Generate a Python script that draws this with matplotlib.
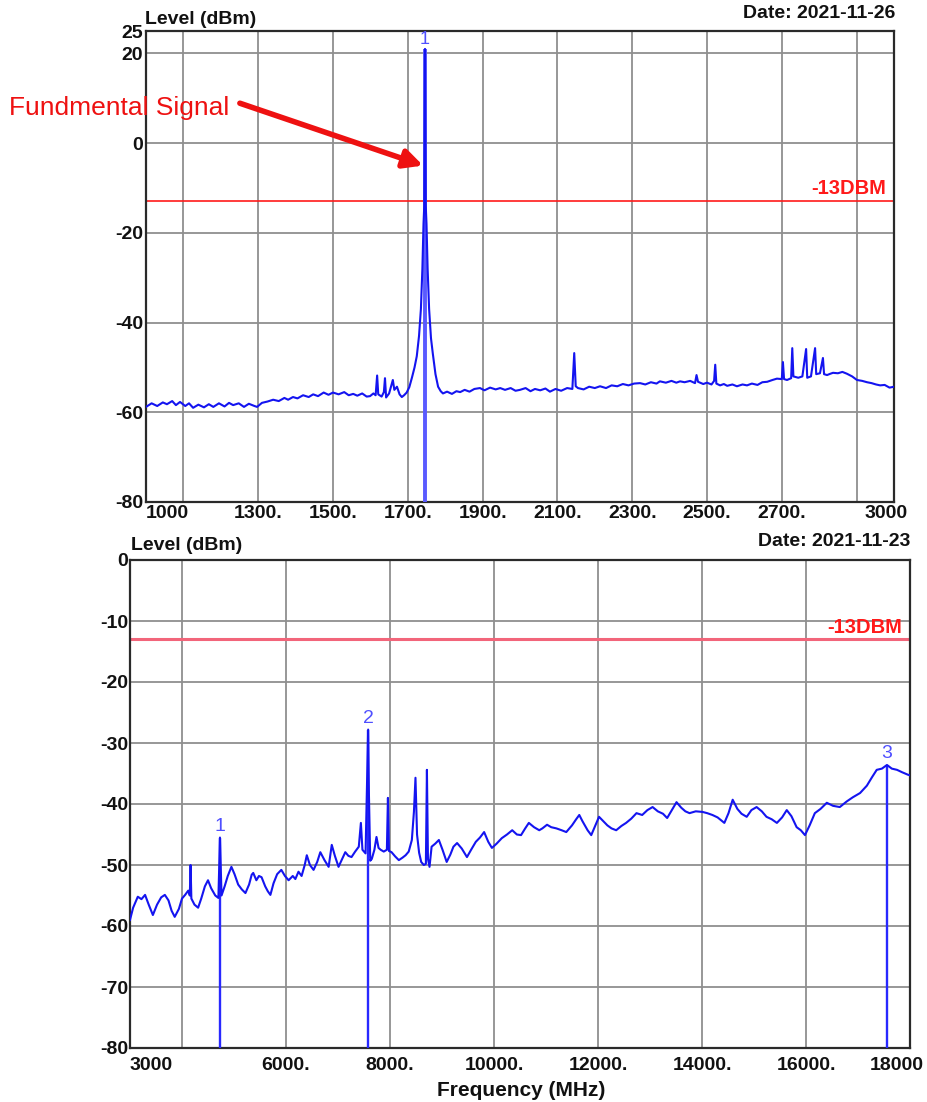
import matplotlib
matplotlib.use("Agg")
import matplotlib.pyplot as plt
from matplotlib.transforms import ScaledTranslation, blended_transform_factory

plt.rcParams['font.family'] = ['Liberation Sans', 'DejaVu Sans']
plt.rcParams['axes.unicode_minus'] = False

# ---------------- data: fundamental sweep 1000-3000 MHz ----------------
top_freq = [1000, 1015, 1030, 1045, 1056, 1070, 1080, 1091, 1105, 1115, 1126, 1140, 1155, 1168,
            1180, 1195, 1210, 1222, 1233, 1248, 1262, 1275, 1290, 1297, 1310, 1325, 1340, 1355,
            1370, 1380, 1393, 1405, 1420, 1435, 1447, 1460, 1475, 1488, 1500, 1515, 1530, 1542,
            1554, 1565, 1578, 1590, 1599, 1608, 1614, 1618, 1621, 1630, 1636, 1639, 1642, 1650,
            1656, 1660, 1664, 1671, 1678, 1684, 1690, 1697, 1704, 1711, 1718, 1724, 1730, 1735,
            1739, 1742, 1744, 1746, 1748, 1750, 1753, 1757, 1762, 1767, 1774, 1781, 1788, 1794,
            1805, 1818, 1830, 1840, 1852, 1865, 1878, 1893, 1905, 1920, 1935, 1947, 1960, 1975,
            1988, 2000, 2015, 2028, 2040, 2054, 2068, 2080, 2095, 2110, 2126, 2140, 2145, 2149,
            2155, 2170, 2185, 2200, 2214, 2230, 2245, 2260, 2275, 2290, 2305, 2321, 2335, 2350,
            2365, 2374, 2390, 2405, 2418, 2428, 2440, 2455, 2468, 2472, 2476, 2490, 2500, 2512,
            2519, 2522, 2525, 2535, 2545, 2554, 2568, 2580, 2595, 2607, 2620, 2635, 2648, 2661,
            2675, 2687, 2700, 2703, 2706, 2714, 2725, 2728, 2731, 2744, 2755, 2765, 2768, 2778,
            2789, 2792, 2802, 2810, 2813, 2821, 2830, 2837, 2850, 2862, 2874, 2888, 2901, 2915,
            2928, 2940, 2952, 2963, 2975, 2988, 3000]
top_level = [-58.8, -58.0, -58.6, -57.8, -58.2, -57.5, -58.4, -57.7, -58.6, -58.0, -59.0, -58.3,
             -58.9, -58.2, -58.8, -58.0, -58.7, -57.9, -58.4, -58.0, -58.8, -58.1, -58.6, -58.8,
             -57.9, -57.6, -57.2, -57.5, -56.8, -57.2, -56.6, -56.9, -56.2, -56.6, -56.0, -56.4,
             -55.6, -56.1, -55.6, -56.0, -55.5, -56.2, -55.9, -56.3, -55.8, -56.5, -56.4, -55.8,
             -56.2, -51.8, -56.0, -56.5, -55.5, -52.4, -56.7, -55.8, -54.0, -52.8, -55.0, -54.3,
             -56.0, -56.6, -56.2, -55.6, -54.4, -52.3, -50.0, -47.5, -43.0, -37.0, -28.0, -18.0,
             -14.0, 21.0, -14.0, -18.0, -28.0, -37.0, -43.5, -47.0, -51.5, -54.3, -55.3, -55.8,
             -55.4, -55.9, -55.3, -55.5, -55.0, -55.4, -54.8, -54.6, -55.1, -54.5, -54.9, -54.6,
             -55.0, -54.6, -55.2, -55.0, -54.6, -55.3, -54.8, -55.1, -54.7, -55.4, -54.8, -55.2,
             -54.6, -54.8, -46.8, -54.2, -54.6, -54.9, -54.3, -54.6, -54.2, -54.6, -54.0, -54.2,
             -53.7, -54.0, -53.6, -53.5, -53.8, -53.3, -53.6, -53.1, -53.4, -53.0, -53.4, -53.1,
             -53.3, -53.0, -53.5, -51.7, -53.2, -53.7, -53.4, -53.8, -53.0, -49.4, -53.6, -54.0,
             -53.7, -54.1, -53.8, -54.2, -53.8, -54.0, -53.6, -53.9, -53.3, -53.2, -52.8, -52.5,
             -52.6, -48.8, -52.6, -52.8, -52.4, -45.7, -52.0, -52.3, -52.0, -45.9, -52.3, -52.0,
             -45.7, -51.5, -51.3, -47.9, -51.5, -51.7, -51.4, -51.2, -51.3, -51.0, -51.4, -52.0,
             -52.8, -53.0, -53.3, -53.5, -53.8, -54.0, -53.9, -54.5, -54.3]
top_markers_freq = [1746]
top_markers_level = [21.0]
top_markers_label = ["1"]
top_xticks = [1000, 1300, 1500, 1700, 1900, 2100, 2300, 2500, 2700, 3000]
top_xticklabels = ["1000", "1300.", "1500.", "1700.", "1900.", "2100.", "2300.", "2500.", "2700.", "3000"]
top_xgrid = [1100, 1300, 1500, 1700, 1900, 2100, 2300, 2500, 2700, 2900]
top_yticks = [25, 20, 0, -20, -40, -60, -80]
top_ygrid = [20, 0, -20, -40, -60]

# ---------------- data: harmonic sweep 3000-18000 MHz ----------------
bot_freq = [3000, 3060, 3150, 3220, 3290, 3360, 3440, 3520, 3600, 3670, 3740, 3800, 3860, 3940,
            4000, 4060, 4120, 4150, 4165, 4180, 4240, 4310, 4370, 4440, 4500, 4560, 4640, 4700,
            4730, 4760, 4820, 4880, 4950, 5010, 5080, 5150, 5220, 5290, 5340, 5370, 5430, 5480,
            5530, 5600, 5650, 5700, 5760, 5830, 5910, 5980, 6050, 6130, 6180, 6240, 6300, 6360,
            6400, 6460, 6530, 6600, 6660, 6740, 6820, 6880, 6940, 7010, 7080, 7140, 7200, 7260,
            7330, 7400, 7440, 7470, 7530, 7580, 7595, 7620, 7650, 7700, 7740, 7780, 7820, 7880,
            7940, 7960, 7980, 8030, 8100, 8170, 8240, 8300, 8360, 8420, 8460, 8490, 8520, 8560,
            8600, 8650, 8690, 8710, 8730, 8760, 8800, 8870, 8940, 9010, 9090, 9160, 9220, 9290,
            9380, 9480, 9560, 9650, 9730, 9810, 9890, 9960, 10050, 10150, 10250, 10350, 10440,
            10520, 10600, 10670, 10770, 10870, 10930, 11020, 11100, 11200, 11300, 11390, 11500,
            11580, 11640, 11700, 11800, 11870, 11950, 12020, 12100, 12180, 12260, 12350, 12450,
            12540, 12640, 12740, 12850, 12950, 13050, 13150, 13250, 13330, 13420, 13510, 13600,
            13680, 13760, 13880, 14010, 14100, 14200, 14300, 14430, 14510, 14590, 14680, 14760,
            14860, 14950, 15050, 15150, 15240, 15340, 15440, 15540, 15630, 15720, 15820, 15900,
            15980, 16070, 16170, 16280, 16400, 16520, 16650, 16780, 16900, 17040, 17170, 17270,
            17360, 17460, 17557, 17650, 17750, 17850, 17960, 18000]
bot_level = [-59.0, -57.0, -55.2, -55.6, -54.9, -56.5, -58.2, -56.5, -55.3, -54.9, -55.8, -57.5,
             -58.5, -57.2, -55.5, -54.9, -54.2, -55.0, -50.0, -55.5, -56.5, -57.0, -55.5, -53.5,
             -52.5, -53.8, -55.0, -55.4, -45.5, -55.0, -53.5, -51.8, -50.3, -51.5, -53.2, -54.0,
             -54.6, -53.2, -51.6, -51.3, -52.5, -51.8, -52.0, -53.5, -54.3, -54.9, -53.0, -51.5,
             -50.8, -51.8, -52.5, -51.8, -52.3, -51.1, -51.8, -50.0, -48.4, -50.0, -50.8, -49.5,
             -47.9, -49.2, -50.3, -46.7, -48.5, -50.3, -49.0, -47.9, -48.5, -48.7, -47.8, -47.0,
             -43.1, -47.5, -48.1, -27.8, -38.5, -49.3, -49.0, -47.5, -45.4, -47.2, -47.5, -47.8,
             -47.5, -39.0, -47.7, -47.9, -48.6, -49.2, -48.8, -48.4, -47.8, -45.9, -41.3, -35.7,
             -45.0, -48.0, -49.5, -50.0, -49.8, -34.4, -49.0, -50.3, -47.0, -46.5, -45.9, -47.5,
             -49.5, -48.3, -47.0, -46.4, -47.3, -48.7, -47.5, -46.2, -45.5, -44.6, -46.2, -47.2,
             -46.5, -45.6, -45.0, -44.3, -45.0, -45.1, -44.0, -43.1, -43.8, -44.3, -44.0, -43.4,
             -43.8, -44.0, -44.3, -44.6, -43.5, -42.5, -41.8, -42.8, -44.3, -45.1, -43.5, -42.1,
             -42.8, -43.5, -44.0, -44.3, -43.6, -43.1, -42.4, -41.5, -41.8, -41.0, -40.5, -41.2,
             -41.6, -42.3, -41.0, -39.7, -40.6, -41.2, -41.5, -41.2, -41.3, -41.5, -41.8, -42.2,
             -43.1, -41.5, -39.3, -40.8, -41.6, -42.1, -41.0, -40.5, -41.2, -42.1, -42.5, -43.1,
             -42.2, -41.0, -42.0, -43.8, -44.3, -45.1, -43.5, -41.5, -40.8, -39.8, -40.3, -40.5,
             -39.6, -38.9, -38.2, -37.0, -35.6, -34.4, -34.2, -33.6, -34.2, -34.4, -34.8, -35.2,
             -35.3]
bot_markers_freq = [4730, 7580, 17557]
bot_markers_level = [-45.5, -27.8, -33.6]
bot_markers_label = ["1", "2", "3"]
bot_xticks = [3000, 6000, 8000, 10000, 12000, 14000, 16000, 18000]
bot_xticklabels = ["3000", "6000.", "8000.", "10000.", "12000.", "14000.", "16000.", "18000"]
bot_xgrid = [4000, 6000, 8000, 10000, 12000, 14000, 16000]
bot_yticks = [0, -10, -20, -30, -40, -50, -60, -70, -80]
bot_ygrid = [-10, -20, -30, -40, -50, -60, -70]

limit_level = -13
limit_label = "-13DBM"

# ---------------- styling ----------------
W, H = 927, 1102
TRACE = '#1414f0'
GRID = '#8f8f8f'
FRAME = '#2a2a2a'
MARK_TXT = '#4f4fff'

fig = plt.figure(figsize=(W / 100, H / 100), dpi=100)
fig.patch.set_facecolor('white')


def px_axes(left, top, right, bottom):
    return fig.add_axes([left / W, 1 - bottom / H, (right - left) / W, (bottom - top) / H])


def px_text(x, y, s, **kw):
    fig.text(x / W, 1 - y / H, s, **kw)


def style_axes(ax, xlim, ylim, xticks, xlabels, xgrid, yticks, ygrid, xpad, ypad):
    ax.set_xlim(*xlim)
    ax.set_ylim(*ylim)
    ax.xaxis.remove_overlapping_locs = False
    ax.yaxis.remove_overlapping_locs = False
    ax.set_xticks(xticks, xlabels)
    ax.set_xticks(xgrid, minor=True)
    ax.set_yticks(yticks)
    ax.set_yticks(ygrid, minor=True)
    ax.tick_params(which='both', length=0)
    ax.tick_params(axis='x', pad=xpad, labelsize=14)
    ax.tick_params(axis='y', pad=ypad, labelsize=14)
    for lbl in ax.get_xticklabels() + ax.get_yticklabels():
        lbl.set_fontweight('bold')
        lbl.set_color('#111111')
    ax.grid(False, which='major')
    ax.grid(True, which='minor', color=GRID, lw=1.3)
    ax.set_axisbelow(True)
    for sp in ax.spines.values():
        sp.set_color(FRAME)
        sp.set_linewidth(1.6)


def shift_label(lbl, dx_px):
    lbl.set_transform(lbl.get_transform() + ScaledTranslation(dx_px / 100, 0, fig.dpi_scale_trans))


# ---------------- upper panel ----------------
ax1 = px_axes(146, 31, 894, 502)
style_axes(ax1, (1000, 3000), (-80, 25), top_xticks, top_xticklabels, top_xgrid,
           top_yticks, top_ygrid, xpad=2, ypad=2)
xl = ax1.get_xticklabels()
xl[0].set_ha('left')
shift_label(xl[-1], -8)

ax1.axhline(limit_level, color='#ff1a1a', lw=1.2, zorder=2)
ax1.text(0.989, -10.0, limit_label, transform=blended_transform_factory(ax1.transAxes, ax1.transData),
         ha='right', va='center', color='#ff1a1a', fontsize=14.5, fontweight='bold')
for f, lv, name in zip(top_markers_freq, top_markers_level, top_markers_label):
    ax1.vlines(f, -80, lv, color='#5a5aff', lw=2.8, zorder=3)
    ax1.annotate(name, (f, lv), xytext=(0, 1), textcoords='offset points', ha='center',
                 va='bottom', color=MARK_TXT, fontsize=13)
ax1.plot(top_freq, top_level, color=TRACE, lw=1.5, zorder=4)

ax1.annotate('', xy=(1741, -5.0), xytext=(1251, 8.9),
             arrowprops=dict(arrowstyle='-|>', color='#ee1111', lw=4, mutation_scale=28,
                             shrinkA=0, shrinkB=0), annotation_clip=False, zorder=6)
px_text(9, 108, 'Fundmental Signal', color='#ee1111', fontsize=19, ha='left', va='center')
px_text(145, 19, 'Level (dBm)', fontsize=14, fontweight='bold', ha='left', va='center', color='#111111')
px_text(895, 14, 'Date: 2021-11-26', fontsize=14, fontweight='bold', ha='right', va='center', color='#111111')

# ---------------- lower panel ----------------
ax2 = px_axes(130, 560, 910, 1048)
style_axes(ax2, (3000, 18000), (-80, 0), bot_xticks, bot_xticklabels, bot_xgrid,
           bot_yticks, bot_ygrid, xpad=6.5, ypad=1.5)
xl = ax2.get_xticklabels()
xl[0].set_ha('left')
shift_label(xl[-1], -13)

ax2.axhline(limit_level, color='#f2657a', lw=2.2, zorder=2)
ax2.text(0.9897, -11.0, limit_label, transform=blended_transform_factory(ax2.transAxes, ax2.transData),
         ha='right', va='center', color='#ff1a1a', fontsize=14.5, fontweight='bold')
for f, lv, name in zip(bot_markers_freq, bot_markers_level, bot_markers_label):
    ax2.vlines(f, -80, lv, color='#2828ff', lw=1.7, zorder=3)
    ax2.annotate(name, (f, lv), xytext=(0, 2), textcoords='offset points', ha='center',
                 va='bottom', color=MARK_TXT, fontsize=14)
ax2.plot(bot_freq, bot_level, color=TRACE, lw=1.5, zorder=4)

px_text(131, 546, 'Level (dBm)', fontsize=14, fontweight='bold', ha='left', va='center', color='#111111')
px_text(910, 541, 'Date: 2021-11-23', fontsize=14, fontweight='bold', ha='right', va='center', color='#111111')
px_text(521, 1090, 'Frequency (MHz)', fontsize=15, fontweight='bold', ha='center', va='center', color='#111111')

fig.savefig('out.png', dpi=100)
